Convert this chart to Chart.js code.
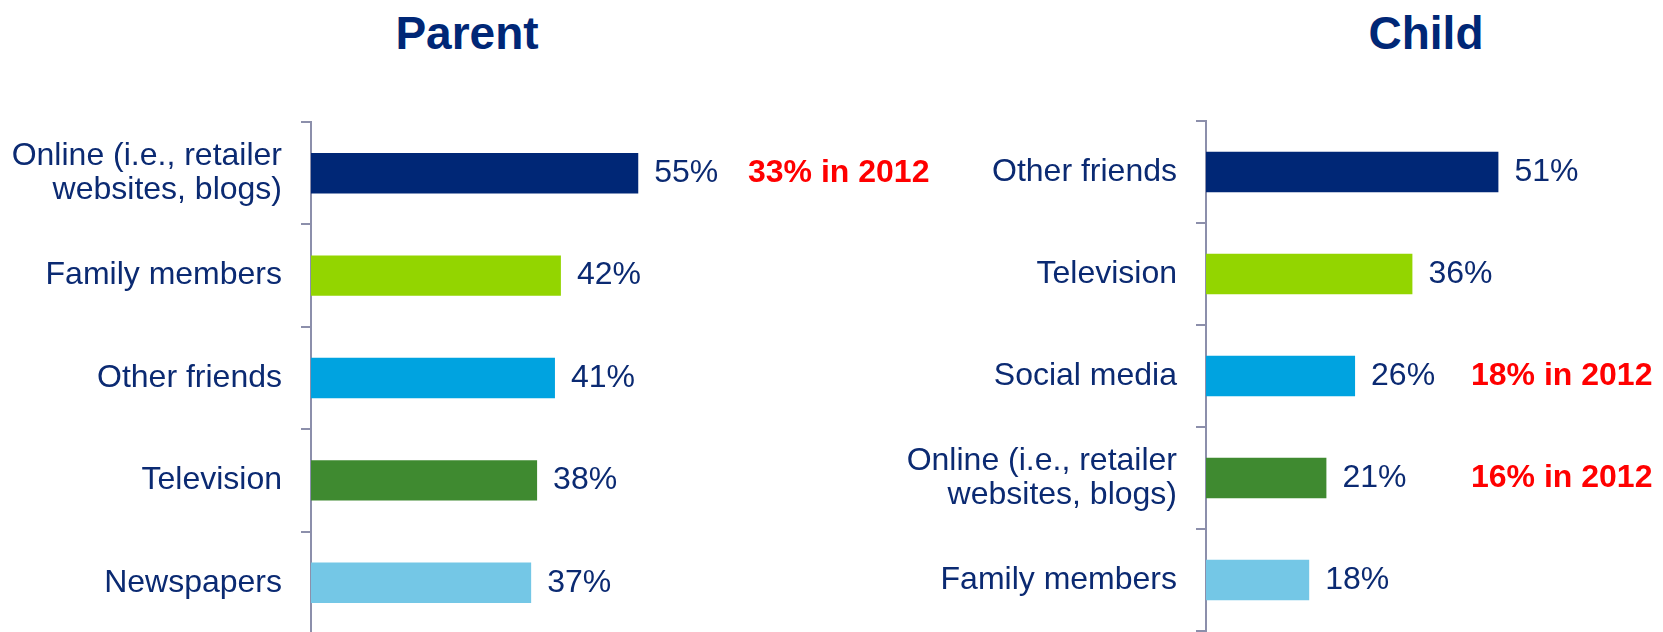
<!DOCTYPE html>
<html>
<head>
<meta charset="utf-8">
<script src="https://cdn.jsdelivr.net/npm/chart.js@4.4.1/dist/chart.umd.min.js"></script>
<style>
  html, body { margin: 0; padding: 0; background: #fff; overflow: hidden; }
  body { width: 1663px; height: 632px; position: relative; }
  .panel { position: absolute; top: 0; }
  .title {
    position: absolute;
    top: 10px;
    width: 300px;
    text-align: center;
    font: bold 46px "Liberation Sans", Arial, sans-serif;
    line-height: 46px;
    color: #002776;
  }
</style>
</head>
<body>
<div class="title" style="left:317px">Parent</div>
<div class="title" style="left:1276px">Child</div>
<div class="panel" style="left:0px"><canvas id="parentChart" width="940" height="640"></canvas></div>
<div class="panel" style="left:880px"><canvas id="childChart" width="783" height="640"></canvas></div>
<script>
// Sources of information, parent vs child
const parentLabels = [['Online (i.e., retailer', 'websites, blogs)'], 'Family members', 'Other friends', 'Television', 'Newspapers'];
const parentValues = [55, 42, 41, 38, 37];
const parentNotes = ['33% in 2012', null, null, null, null];

const childLabels = ['Other friends', 'Television', 'Social media', ['Online (i.e., retailer', 'websites, blogs)'], 'Family members'];
const childValues = [51, 36, 26, 21, 18];
const childNotes = [null, null, '18% in 2012', '16% in 2012', null];

const barColors = ['#002776', '#93d500', '#00a3e0', '#3f8a30', '#74c7e6'];

const FONT = '"Liberation Sans", Arial, sans-serif';
const TEXT_COLOR = '#0b2a72';
const AXIS_COLOR = '#8c8fab';

// draws the value next to each bar plus the red "in 2012" notes
const valueLabels = {
  id: 'valueLabels',
  afterDatasetsDraw(chart, args, opts) {
    const ctx = chart.ctx;
    const meta = chart.getDatasetMeta(0);
    const values = chart.data.datasets[0].data;
    ctx.save();
    ctx.textBaseline = 'middle';
    ctx.textAlign = 'left';
    meta.data.forEach((bar, i) => {
      ctx.font = '32px ' + FONT;
      ctx.fillStyle = TEXT_COLOR;
      ctx.fillText(values[i] + '%', bar.x + 16, bar.y);
      const note = opts.notes[i];
      if (note) {
        ctx.font = 'bold 32px ' + FONT;
        ctx.fillStyle = '#ff0000';
        ctx.fillText(note, chart.chartArea.left + opts.noteOffset, bar.y);
      }
    });
    ctx.restore();
  }
};

function makeChart(canvasId, labels, values, notes, cfg) {
  const ctx = document.getElementById(canvasId).getContext('2d');
  return new Chart(ctx, {
    type: 'bar',
    data: {
      labels: labels,
      datasets: [{
        data: values,
        backgroundColor: barColors,
        borderWidth: 0,
        barPercentage: 0.395,
        categoryPercentage: 1
      }]
    },
    options: {
      indexAxis: 'y',
      responsive: false,
      animation: false,
      layout: {
        padding: { top: cfg.top, bottom: cfg.bottom, left: 0, right: cfg.right }
      },
      scales: {
        x: {
          display: false,
          min: 0,
          max: cfg.max
        },
        y: {
          afterFit(scale) {
            // fixed axis width, and no extra room for the edge labels
            scale.width = cfg.axisWidth;
            scale.paddingTop = 0;
            scale.paddingBottom = 0;
          },
          border: { display: true, color: AXIS_COLOR, width: 2 },
          grid: {
            drawOnChartArea: false,
            drawTicks: true,
            tickLength: 10,
            color: AXIS_COLOR,
            lineWidth: 2
          },
          ticks: {
            autoSkip: false,
            padding: 19,
            color: TEXT_COLOR,
            font: { family: FONT, size: 32, lineHeight: 1.07 }
          }
        }
      },
      plugins: {
        legend: { display: false },
        tooltip: { enabled: false },
        valueLabels: { notes: notes, noteOffset: cfg.noteOffset }
      }
    },
    plugins: [valueLabels]
  });
}

makeChart('parentChart', parentLabels, parentValues, parentNotes, {
  top: 122, bottom: 6, right: 34, max: 100, axisWidth: 311, noteOffset: 437
});

makeChart('childChart', childLabels, childValues, childNotes, {
  top: 121, bottom: 9, right: 27, max: 75, axisWidth: 326, noteOffset: 265
});
</script>
</body>
</html>
